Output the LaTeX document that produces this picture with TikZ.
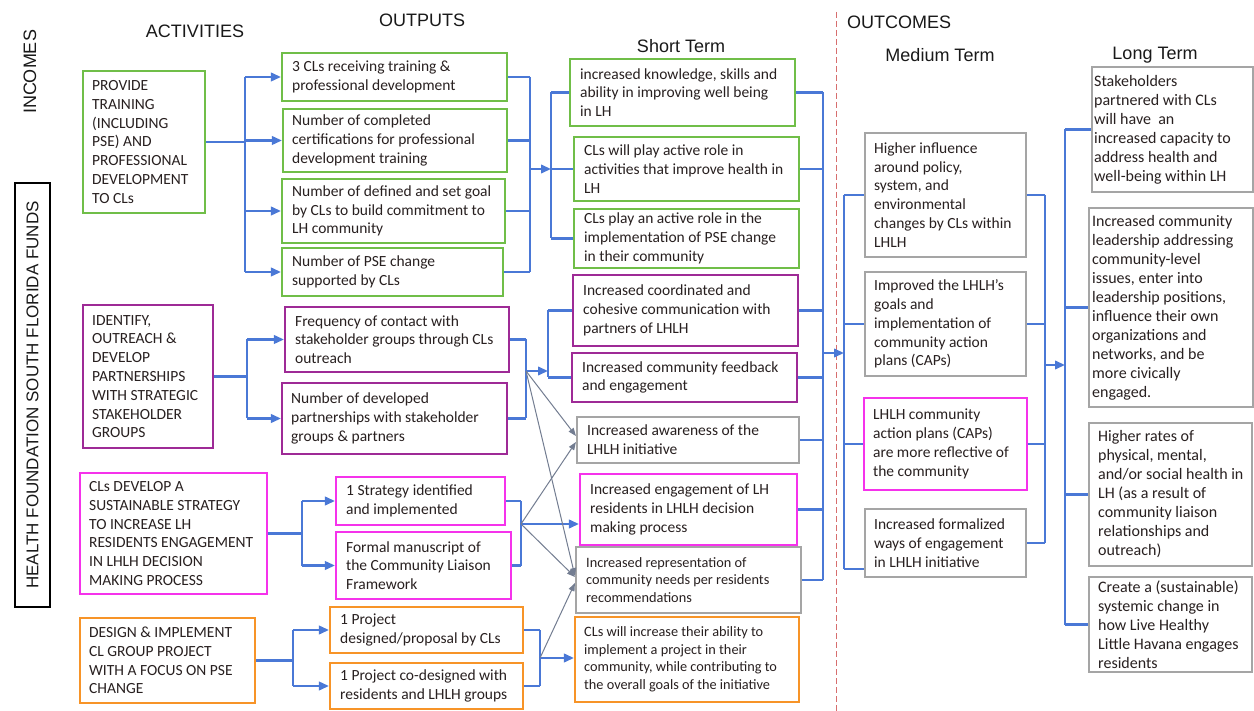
\documentclass[tikz,border=0pt]{standalone}
\usepackage{fontspec}
\setmainfont{Carlito}
\newfontfamily\hdrfont{Liberation Sans}
\usetikzlibrary{arrows.meta,calc}
\definecolor{cgreen}{RGB}{112,190,72}
\definecolor{cpurple}{RGB}{158,42,150}
\definecolor{cmag}{RGB}{245,50,235}
\definecolor{corange}{RGB}{247,148,40}
\definecolor{cgray}{RGB}{165,165,165}
\definecolor{cblue}{RGB}{74,120,214}
\definecolor{cthin}{RGB}{115,125,145}
\definecolor{cred}{RGB}{215,110,110}
\definecolor{ctext}{RGB}{40,32,32}
\tikzset{
  box/.style={draw,line width=2.1pt,inner sep=0pt,fill=white},
  gbox/.style={draw=cgreen},
  pbox/.style={draw=cpurple},
  mbox/.style={draw=cmag},
  obox/.style={draw=corange},
  ybox/.style={draw=cgray},
  btext/.style={inner sep=0pt,align=left,text=ctext,font=\fontsize{15.5}{18.8}\selectfont},
  small/.style={font=\fontsize{14.3}{17.5}\selectfont},
  big/.style={font=\fontsize{16}{19}\selectfont},
  hdr/.style={inner sep=0pt,text=black!90,font=\hdrfont\fontsize{18}{20}\selectfont},
  conn/.style={draw=cblue,line width=2.2pt},
  arr/.style={-{Triangle[length=10pt,width=8.5pt]}},
  thinarr/.style={draw=cthin,line width=1pt,-{Triangle[length=8pt,width=6pt]}},
  divider/.style={draw=cred,line width=1pt,dash pattern=on 6pt off 3pt}
}
\newcommand\lmbox[9]{%
  \pgfmathsetmacro\lmw{#4-#2}\pgfmathsetmacro\lmh{#5-#3}%
  \pgfmathsetmacro\lmx{(#2+#4)/2}\pgfmathsetmacro\lmy{(#3+#5)/2}%
  \node[box,#6,minimum width=\lmw pt,minimum height=\lmh pt] (#1) at (\lmx,\lmy) {};%
  \node[btext,#8,anchor=west] (#1t) at ([xshift=#7pt]#1.west) {#9};}
\begin{document}
\begin{tikzpicture}[x=1pt,y=-1pt]
\useasboundingbox[fill=white] (0,0) rectangle (1254,711);

% headers
\node[hdr,rotate=90] (hinc) at (30,72) {INCOMES};
\node[draw=black,line width=1.8pt,rotate=90,minimum width=424pt,minimum height=35pt,inner sep=0pt,text=black!90,font=\hdrfont\fontsize{17}{19}\selectfont] (hfund) at (32.5,395) {HEALTH FOUNDATION SOUTH FLORIDA FUNDS};
\node[hdr] (hact) at (195,31) {ACTIVITIES};
\node[hdr] (hout) at (422,20) {OUTPUTS};
\node[hdr] (hshort) at (681,46) {Short Term};
\node[hdr,anchor=west] (houtc) at (847,22) {OUTCOMES};
\node[hdr] (hmed) at (940,55) {Medium Term};
\node[hdr] (hlong) at (1155,55) {Long Term};

\coordinate (dtop) at (836,12);
\coordinate (dbot) at (836,711);
\draw[divider] (dtop) -- (dbot);

% activities
\lmbox{A1}{83}{71}{205}{213}{gbox}{10}{}{PROVIDE\\TRAINING\\(INCLUDING\\PSE) AND\\PROFESSIONAL\\DEVELOPMENT\\TO CLs}
\lmbox{A2}{83}{305}{213}{448}{pbox}{10}{}{IDENTIFY,\\OUTREACH \&\\DEVELOP\\PARTNERSHIPS\\WITH STRATEGIC\\STAKEHOLDER\\GROUPS}
\lmbox{A3}{80}{473}{267}{594}{mbox}{10}{}{CLs DEVELOP A\\SUSTAINABLE STRATEGY\\TO INCREASE LH\\RESIDENTS ENGAGEMENT\\IN LHLH DECISION\\MAKING PROCESS}
\lmbox{A4}{80}{618}{255}{703}{obox}{10}{}{DESIGN \& IMPLEMENT\\CL GROUP PROJECT\\WITH A FOCUS ON PSE\\CHANGE}

% outputs
\lmbox{O1}{282}{53}{507}{101}{gbox}{11}{}{3 CLs receiving training \&\\professional development}
\lmbox{O2}{283}{109}{507}{172}{gbox}{10}{}{Number of completed\\certifications for professional\\development training}
\lmbox{O3}{282}{179}{505}{243}{gbox}{11}{}{Number of defined and set goal\\by CLs to build commitment to\\LH community}
\lmbox{O4}{282}{248}{503}{296}{gbox}{11}{}{Number of PSE change\\supported by CLs}
\lmbox{O5}{285}{307}{509}{372}{pbox}{11}{}{Frequency of contact with\\stakeholder groups through CLs\\outreach}
\lmbox{O6}{282}{383}{507}{454}{pbox}{10}{}{Number of developed\\partnerships with stakeholder\\groups \& partners}
\lmbox{O7}{336}{477}{505}{525}{mbox}{11}{}{1 Strategy identified\\and implemented}
\lmbox{O8}{336}{532}{511}{599}{mbox}{11}{}{Formal manuscript of\\the Community Liaison\\Framework}
\lmbox{O9}{330}{607}{523}{653}{obox}{11}{}{1 Project\\designed/proposal by CLs}
\lmbox{O10}{330}{663}{523}{709}{obox}{11}{}{1 Project co-designed with\\residents and LHLH groups}

% short term
\lmbox{S1}{570}{59}{795}{126}{gbox}{11}{}{increased knowledge, skills and\\ability in improving well being\\in LH}
\lmbox{S2}{574}{137}{799}{201}{gbox}{11}{}{CLs will play active role in\\activities that improve health in\\LH}
\lmbox{S3}{574}{209}{799}{268}{gbox}{11}{}{CLs play an active role in the\\implementation of PSE change\\in their community}
\lmbox{S4}{573}{275}{798}{346}{pbox}{11}{}{Increased coordinated and\\cohesive communication with\\partners of LHLH}
\lmbox{S5}{572}{353}{797}{402}{pbox}{11}{}{Increased community feedback\\and engagement}
\lmbox{S6}{577}{417}{799}{463}{ybox}{11}{}{Increased awareness of the\\LHLH initiative}
\lmbox{S7}{580}{474}{797}{545}{mbox}{11}{}{Increased engagement of LH\\residents in LHLH decision\\making process}
\lmbox{S8}{576}{547}{801}{613}{ybox}{11}{small}{Increased representation of\\community needs per residents\\recommendations}
\lmbox{S9}{575}{617}{799}{702}{obox}{10}{small}{CLs will increase their ability to\\implement a project in their\\community, while contributing to\\the overall goals of the initiative}

% medium term
\lmbox{M1}{865}{133}{1026}{257}{ybox}{10}{}{Higher influence\\around policy,\\system, and\\environmental\\changes by CLs within\\LHLH}
\lmbox{M2}{865}{272}{1026}{376}{ybox}{10}{}{Improved the LHLH's\\goals and\\implementation of\\community action\\plans (CAPs)}
\lmbox{M3}{864}{398}{1027}{490}{mbox}{10}{}{LHLH community\\action plans (CAPs)\\are more reflective of\\the community}
\lmbox{M4}{865}{509}{1026}{577}{ybox}{10}{}{Increased formalized\\ways of engagement\\in LHLH initiative}

% long term
\lmbox{L1}{1092}{67}{1253}{192}{ybox}{3}{big}{Stakeholders\\partnered with CLs\\will have~ an\\increased capacity to\\address health and\\well-being within LH}
\lmbox{L2}{1089}{208}{1253}{407}{ybox}{4}{big}{Increased community\\leadership addressing\\community-level\\issues, enter into\\leadership positions,\\influence their own\\organizations and\\networks, and be\\more civically\\engaged.}
\lmbox{L3}{1089}{423}{1252}{566}{ybox}{10}{big}{Higher rates of\\physical, mental,\\and/or social health in\\LH (as a result of\\community liaison\\relationships and\\outreach)}
\lmbox{L4}{1089}{577}{1252}{672}{ybox}{10}{big}{Create a (sustainable)\\systemic change in\\how Live Healthy\\Little Havana engages\\residents}

% bus coordinates
\coordinate (gA) at (245,0);
\coordinate (gB) at (530,0);
\coordinate (gC) at (551,0);
\coordinate (pA) at (247,0);
\coordinate (pB) at (526,0);
\coordinate (pC) at (548,0);
\coordinate (kA) at (302,0);
\coordinate (kB) at (521,0);
\coordinate (oA) at (293,0);
\coordinate (oB) at (540,0);
\coordinate (sR) at (823,0);
\coordinate (mL) at (844,0);
\coordinate (mR) at (1045,0);
\coordinate (lL) at (1065,0);
\coordinate (pj) at (526,371);
\coordinate (kj) at (521,524);
\coordinate (oj) at (540,658);
\coordinate (sj) at (823,353);
\coordinate (mj) at (1045,365);
\coordinate (M4lo) at ([yshift=9pt]M4.south west);

% green chain
\draw[conn] (A1.east) -- (A1.east -| gA);
\draw[conn] (gA |- O1.west) -- (gA |- O4.west);
\foreach \n in {O1,O2,O3,O4} \draw[conn,arr] (gA |- \n.west) -- (\n.west);
\foreach \n in {O1,O2,O3,O4} \draw[conn] (\n.east) -- (\n.east -| gB);
\draw[conn] (gB |- O1.east) -- (gB |- O4.east);
\draw[conn,arr] (gB |- S2.west) -- (gC |- S2.west);
\draw[conn] (gC |- S1.west) -- (gC |- S3.west);
\foreach \n in {S1,S2,S3} \draw[conn] (gC |- \n.west) -- (\n.west);

% purple chain
\draw[conn] (A2.east) -- (A2.east -| pA);
\draw[conn] (pA |- O5.west) -- (pA |- O6.west);
\foreach \n in {O5,O6} \draw[conn,arr] (pA |- \n.west) -- (\n.west);
\foreach \n in {O5,O6} \draw[conn] (\n.east) -- (\n.east -| pB);
\draw[conn] (pB |- O5.east) -- (pB |- O6.east);
\draw[conn,arr] (pj) -- (pj -| pC);
\draw[conn] (pC |- S4.west) -- (pC |- S5.west);
\foreach \n in {S4,S5} \draw[conn] (pC |- \n.west) -- (\n.west);

% magenta chain
\draw[conn] (A3.east) -- (A3.east -| kA);
\draw[conn] (kA |- O7.west) -- (kA |- O8.west);
\foreach \n in {O7,O8} \draw[conn,arr] (kA |- \n.west) -- (\n.west);
\foreach \n in {O7,O8} \draw[conn] (\n.east) -- (\n.east -| kB);
\draw[conn] (kB |- O7.east) -- (kB |- O8.east);
\draw[conn,arr] (kj) -- (kj -| S7.west);

% orange chain
\draw[conn] (A4.east) -- (A4.east -| oA);
\draw[conn] (oA |- O9.west) -- (oA |- O10.west);
\foreach \n in {O9,O10} \draw[conn,arr] (oA |- \n.west) -- (\n.west);
\foreach \n in {O9,O10} \draw[conn] (\n.east) -- (\n.east -| oB);
\draw[conn] (oB |- O9.east) -- (oB |- O10.east);
\draw[conn,arr] (oj) -- (oj -| S9.west);

% thin cross links
\draw[thinarr] (pj) -- ([yshift=4pt]S6.west);
\draw[thinarr] (pj) -- ([yshift=4pt]S8.west);
\draw[thinarr] (kj) -- ([yshift=-2pt]S6.west);
\draw[thinarr] (kj) -- ([yshift=3pt]S8.west);
\draw[thinarr] (oj) -- ([yshift=-3pt]S8.west);

% short -> medium
\foreach \n in {S1,S2,S4,S5,S6,S7,S8} \draw[conn] (\n.east) -- (\n.east -| sR);
\draw[conn] (sR |- S1.east) -- (sR |- S8.east);
\draw[conn,arr] (sj) -- (sj -| mL);
\draw[conn] (mL |- M1.west) -- (mL |- M4lo);
\foreach \n in {M1,M2,M3} \draw[conn] (mL |- \n.west) -- (\n.west);
\draw[conn] (mL |- M4lo) -- (M4lo);

% medium -> long
\foreach \n in {M1,M2,M3,M4} \draw[conn] (\n.east) -- (\n.east -| mR);
\draw[conn] (mR |- M1.east) -- (mR |- M4.east);
\draw[conn,arr] (mj) -- (mj -| lL);
\draw[conn] (lL |- L1.west) -- (lL |- L4.west);
\foreach \n in {L1,L2,L3,L4} \draw[conn] (lL |- \n.west) -- (\n.west);
\end{tikzpicture}
\end{document}
